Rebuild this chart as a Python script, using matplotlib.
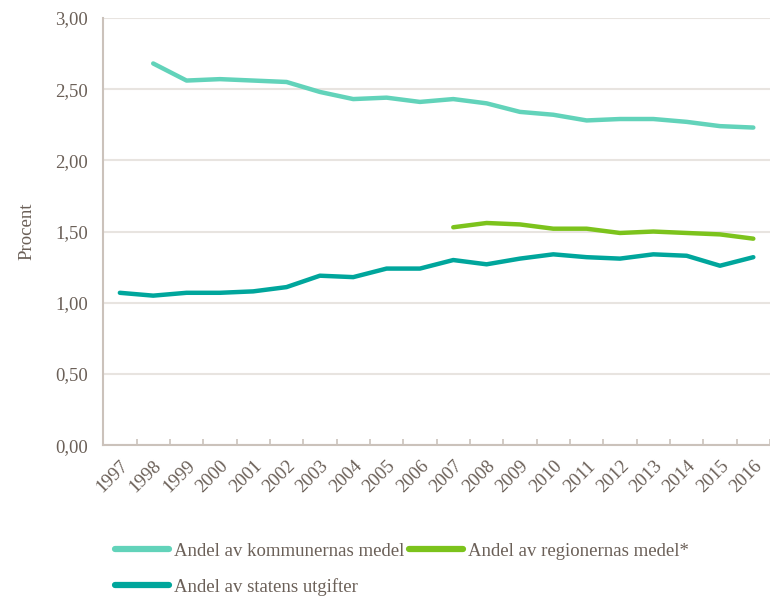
import numpy as np
import matplotlib.pyplot as plt

# Data (percent)
years = [str(y) for y in range(1997, 2017)]
kommunernas = [np.nan, 2.68, 2.56, 2.57, 2.56, 2.55, 2.48, 2.43, 2.44, 2.41,
               2.43, 2.40, 2.34, 2.32, 2.28, 2.29, 2.29, 2.27, 2.24, 2.23]
regionernas = [np.nan] * 10 + [1.53, 1.56, 1.55, 1.52, 1.52, 1.49, 1.50,
                               1.49, 1.48, 1.45]
statens = [1.07, 1.05, 1.07, 1.07, 1.08, 1.11, 1.19, 1.18, 1.24, 1.24,
           1.30, 1.27, 1.31, 1.34, 1.32, 1.31, 1.34, 1.33, 1.26, 1.32]
yticks = [0.0, 0.5, 1.0, 1.5, 2.0, 2.5, 3.0]

text_col = "#6b6058"
spine_col = "#cbc2bb"
grid_col = "#e8e4e0"

plt.rcParams["font.family"] = ["Liberation Serif", "DejaVu Serif"]

fig = plt.figure(figsize=(7.7, 5.96), dpi=100)
ax = fig.add_axes([0.134, 0.253, 0.866, 0.717])

x = np.arange(len(years))
l1, = ax.plot(x, kommunernas, color="#62d3ba", lw=3.2, solid_capstyle="round",
              label="Andel av kommunernas medel")
l2, = ax.plot(x, regionernas, color="#7cc31c", lw=3.2, solid_capstyle="round",
              label="Andel av regionernas medel*")
l3, = ax.plot(x, statens, color="#00a69c", lw=3.2, solid_capstyle="round",
              label="Andel av statens utgifter")

ax.set_xlim(-0.5, len(years) - 0.5)
ax.set_ylim(0, 3.0)

# Category axis: labels at centres, tick marks at boundaries
ax.set_xticks(x)
ax.set_xticklabels(years, rotation=45, ha="right", rotation_mode="anchor",
                   color=text_col, fontsize=13.5)
ax.tick_params(axis="x", which="major", length=0, pad=9)
ax.set_xticks(np.arange(-0.5, len(years)), minor=True)
ax.tick_params(axis="x", which="minor", direction="in", length=4.5,
               width=1.2, color=spine_col)

ax.set_yticks(yticks)
ax.set_yticklabels([f"{v:.2f}".replace(".", ",") for v in yticks],
                   color=text_col, fontsize=13.5)
ax.tick_params(axis="y", length=0, pad=11)
ax.grid(axis="y", color=grid_col, lw=1.5)
ax.set_axisbelow(True)

for side in ["top", "right"]:
    ax.spines[side].set_visible(False)
for side in ["left", "bottom"]:
    ax.spines[side].set_color(spine_col)
    ax.spines[side].set_linewidth(1.5)

ax.set_ylabel("Procent", color=text_col, fontsize=13.5, labelpad=14)

# column-wise fill: first column kommunernas + statens, second regionernas
fig.legend(handles=[l1, l3, l2], loc="upper left",
           bbox_to_anchor=(0.139, 0.102), ncol=2,
           frameon=False, fontsize=13.5, labelcolor=text_col,
           handlelength=2.9, handletextpad=0.25, columnspacing=0.25,
           labelspacing=0.95, borderaxespad=0)
for h in fig.legends[0].legend_handles:
    h.set_linewidth(4.5)

fig.savefig("out.png", dpi=100)
